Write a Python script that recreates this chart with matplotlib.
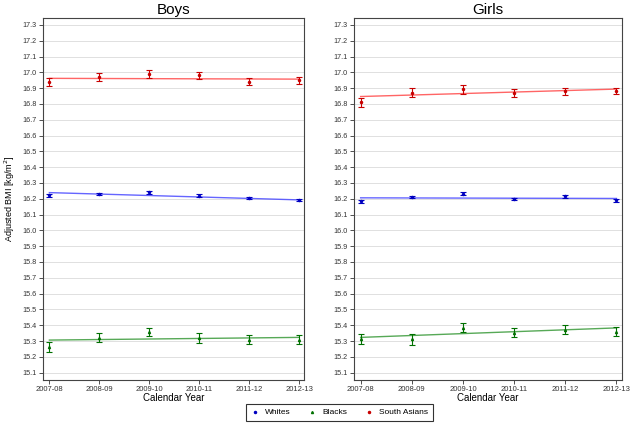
import matplotlib.pyplot as plt
import numpy as np

plt.rcParams['font.family'] = ['Liberation Sans', 'DejaVu Sans']

# Data
years = ["2007-08", "2008-09", "2009-10", "2010-11", "2011-12", "2012-13"]
x = np.arange(len(years))

# Boys: point estimates, lower and upper CI, fitted trend (start, end)
boys_whites = [16.222, 16.230, 16.240, 16.220, 16.204, 16.190]
boys_whites_lo = [16.212, 16.222, 16.230, 16.210, 16.196, 16.184]
boys_whites_hi = [16.232, 16.238, 16.252, 16.230, 16.210, 16.196]
boys_whites_fit = [16.239, 16.193]

boys_blacks = [15.262, 15.321, 15.357, 15.320, 15.309, 15.309]
boys_blacks_lo = [15.230, 15.293, 15.333, 15.290, 15.279, 15.284]
boys_blacks_hi = [15.294, 15.353, 15.383, 15.350, 15.336, 15.336]
boys_blacks_fit = [15.306, 15.323]

boys_sa = [16.940, 16.970, 16.987, 16.980, 16.940, 16.950]
boys_sa_lo = [16.915, 16.947, 16.966, 16.957, 16.921, 16.926]
boys_sa_hi = [16.962, 16.996, 17.015, 17.002, 16.962, 16.972]
boys_sa_fit = [16.962, 16.957]

# Girls
girls_whites = [16.185, 16.212, 16.233, 16.200, 16.215, 16.190]
girls_whites_lo = [16.175, 16.204, 16.224, 16.192, 16.204, 16.181]
girls_whites_hi = [16.195, 16.220, 16.242, 16.208, 16.225, 16.199]
girls_whites_fit = [16.206, 16.202]

girls_blacks = [15.315, 15.310, 15.385, 15.353, 15.372, 15.360]
girls_blacks_lo = [15.281, 15.277, 15.355, 15.326, 15.347, 15.332]
girls_blacks_hi = [15.347, 15.343, 15.415, 15.381, 15.400, 15.389]
girls_blacks_fit = [15.323, 15.383]

girls_sa = [16.810, 16.872, 16.894, 16.870, 16.880, 16.885]
girls_sa_lo = [16.783, 16.845, 16.865, 16.845, 16.857, 16.862]
girls_sa_hi = [16.840, 16.900, 16.923, 16.895, 16.902, 16.904]
girls_sa_fit = [16.847, 16.894]

groups = ["Whites", "Blacks", "South Asians"]
line_colors = {"Whites": "#4a4aff", "Blacks": "#3a9a3a", "South Asians": "#ff4a4a"}
err_colors = {"Whites": "#0000c0", "Blacks": "#007000", "South Asians": "#c80000"}
markers = {"Whites": "o", "Blacks": "^", "South Asians": "o"}

panels = [
    ("Boys", {
        "Whites": (boys_whites, boys_whites_lo, boys_whites_hi, boys_whites_fit),
        "Blacks": (boys_blacks, boys_blacks_lo, boys_blacks_hi, boys_blacks_fit),
        "South Asians": (boys_sa, boys_sa_lo, boys_sa_hi, boys_sa_fit),
    }),
    ("Girls", {
        "Whites": (girls_whites, girls_whites_lo, girls_whites_hi, girls_whites_fit),
        "Blacks": (girls_blacks, girls_blacks_lo, girls_blacks_hi, girls_blacks_fit),
        "South Asians": (girls_sa, girls_sa_lo, girls_sa_hi, girls_sa_fit),
    }),
]

fig = plt.figure(figsize=(6.31, 4.24), dpi=100)
ax_l = fig.add_axes([0.068, 0.104, 0.414, 0.854])
ax_r = fig.add_axes([0.561, 0.104, 0.424, 0.854])

handles = []
for ax, (title, data) in zip([ax_l, ax_r], panels):
    for g in groups:
        y, lo, hi, fit = data[g]
        y = np.array(y)
        err = [y - np.array(lo), np.array(hi) - y]
        ax.plot([x[0], x[-1]], fit, color=line_colors[g], linewidth=1.0, alpha=0.85, zorder=2)
        ax.errorbar(x, y, yerr=err, fmt="none", ecolor=err_colors[g],
                    elinewidth=0.8, capsize=2.5, capthick=0.8, zorder=3)
        h, = ax.plot(x, y, linestyle="none", marker=markers[g], markersize=1.5,
                     color=err_colors[g], zorder=4)
        if title == "Boys":
            handles.append(h)

    ax.set_title(title, fontsize=11, pad=3)
    ax.set_xlim(-0.13, 5.1)
    ax.set_ylim(15.054, 17.345)
    ax.set_xticks(x)
    ax.set_xticklabels(years, fontsize=5.5)
    yt = np.round(np.arange(15.1, 17.31, 0.1), 1)
    ax.set_yticks(yt)
    ax.set_yticklabels([f"{v:.1f}" for v in yt], fontsize=5.2, color="#333333")
    ax.tick_params(axis="both", length=3, width=0.6, pad=1.5, colors="#333333")
    ax.grid(axis="y", color="#e0e0e0", linewidth=0.7)
    ax.set_axisbelow(True)
    for s in ax.spines.values():
        s.set_color("#444444")
        s.set_linewidth(0.8)
    ax.set_xlabel("Calendar Year", fontsize=7, labelpad=0)

ax_l.set_ylabel("Adjusted BMI [kg/m$^2$]", fontsize=6.5, labelpad=4)

leg = fig.legend(handles, groups, loc="center", bbox_to_anchor=(0.538, 0.027),
                 ncol=3, fontsize=6, frameon=True, fancybox=False,
                 handlelength=0.8, columnspacing=2.2, borderpad=0.6, markerscale=1.0)
leg.get_frame().set_edgecolor("black")
leg.get_frame().set_linewidth(0.8)

fig.savefig("out.png", dpi=100)
